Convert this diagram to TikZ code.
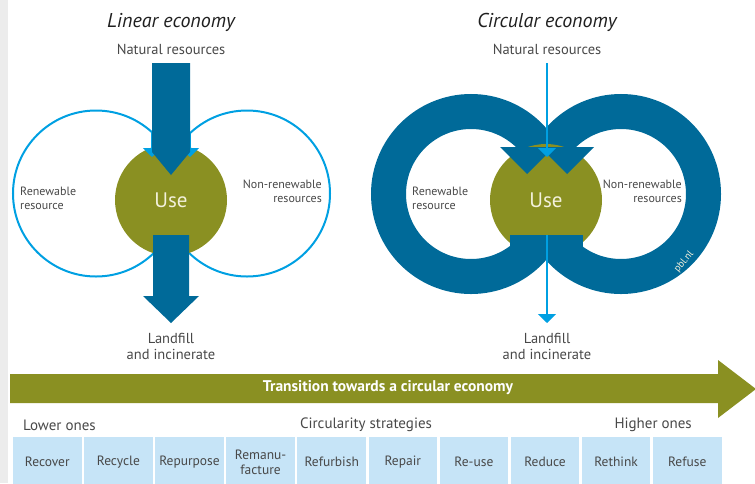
\documentclass[tikz,border=0pt]{standalone}
\usepackage{fontspec}
\setmainfont{PT Sans}
\usetikzlibrary{arrows.meta, positioning}
\definecolor{pbldark}{RGB}{0,106,153}
\definecolor{pbllight}{RGB}{0,160,226}
\definecolor{pblolive}{RGB}{138,144,34}
\definecolor{pblbox}{RGB}{198,228,247}
\definecolor{pbltext}{RGB}{72,72,72}
\definecolor{pblcream}{RGB}{243,241,220}
\definecolor{pblgray}{RGB}{236,236,236}
\tikzset{
  titletext/.style={inner sep=0, text=black!88, font=\fontsize{20}{22}\selectfont\itshape},
  headtext/.style={inner sep=0, text=pbltext, align=center, font=\fontsize{14.5}{16}\selectfont},
  bottomtext/.style={inner sep=0, text=pbltext, font=\fontsize{15}{17}\selectfont},
  sidetext/.style={inner sep=0, text=pbltext, font=\fontsize{12}{14}\selectfont},
  usenode/.style={circle, fill=pblolive, minimum size=112pt, inner sep=0,
    text=pblcream, font=\fontsize{21}{24}\selectfont},
  stratbox/.style={rectangle, fill=pblbox, minimum width=68.6pt, minimum height=50pt,
    inner sep=0, align=center, text=pbltext, font=\fontsize{13.5}{15}\selectfont},
  ringline/.style={draw=pbllight, line width=2pt},
  ringband/.style={draw=pbldark, line width=35pt},
  thinarrow/.style={draw=pbllight, line width=2pt, -{Triangle[width=18pt,length=9pt]}}
}

\begin{document}
\begin{tikzpicture}[x=1pt, y=-1pt]
\useasboundingbox (0,0) rectangle (755,483);
\fill[pblgray] (0,0) rectangle (8,483);

% Linear economy
\node (tlin) [titletext] at (171,22) {Linear economy};
\node (nrlin) [headtext] at (171,49) {Natural resources};
\draw[ringline] (96,193.5) circle[radius=83];
\draw[ringline] (247,193.5) circle[radius=83];
\node (uselin) [usenode] at (171,200) {Use};
\coordinate (lefttip) at (152,157);
\coordinate (righttip) at (190,157);
\draw[thinarrow] (152,132) -- (lefttip);
\draw[thinarrow] (190,133) -- (righttip);
\fill[pbldark] (152,63) -- (190,63) -- (190,152) -- (171,175) -- (152,152) -- cycle;
\fill[pbldark] (153,235) -- (189,235) -- (189,296) -- (199,296) -- (171,323)
  -- (143,296) -- (153,296) -- cycle;
\node (renlin) [sidetext, anchor=west, align=left] at (20,198) {Renewable\\resource};
\node (nonlin) [sidetext, anchor=east, align=right] at (322,191) {Non-renewable\\resources};
\node (landlin) [headtext] at (171,346) {Landfill\\and incinerate};

% Circular economy
\node (tcirc) [titletext] at (547,22) {Circular economy};
\node (nrcirc) [headtext] at (547,49) {Natural resources};
\draw[ringband] (471,194) circle[radius=82.5];
\draw[ringband] (621,194) circle[radius=82.5];
\node (usecirc) [usenode] at (546,200) {Use};
\fill[pbldark] (510,235) rectangle (583,258);
\fill[pbldark] (500,147) -- (554,147) -- (527,174) -- cycle;
\fill[pbldark] (540,147) -- (594,147) -- (567,174) -- cycle;
\coordinate (inflow) at (547,63);
\coordinate (inend) at (547,157);
\coordinate (outflow) at (547,235);
\coordinate (outend) at (547,323);
\draw[thinarrow] (inflow) -- (inend);
\draw[thinarrow] (outflow) -- (outend);
\node (rencirc) [sidetext, anchor=west, align=left] at (412,198) {Renewable\\resource};
\node (noncirc) [sidetext, anchor=east, align=right] at (682,191) {Non-renewable\\resources};
\node (landcirc) [headtext] at (547,346) {Landfill\\and incinerate};
\node (pbl) [inner sep=0, rotate=50, text=pblcream, font=\fontsize{10}{11}\selectfont] at (684,262) {pbl.nl};

% Transition
\fill[pblolive] (10,374) -- (718,374) -- (718,360) -- (756,389) -- (718,418)
  -- (718,403) -- (10,403) -- cycle;
\node (trans) [inner sep=0, text=white, font=\fontsize{15.5}{17}\selectfont\bfseries] at (388,388)
  {Transition towards a circular economy};
\node (lower) [bottomtext, anchor=west] at (23,425) {Lower ones};
\node (strat) [bottomtext] at (366,425) {Circularity strategies};
\node (higher) [bottomtext, anchor=east] at (692,425) {Higher ones};

% Strategies
\node (s1) [stratbox] at (47.3,462) {Recover};
\node (s2) [stratbox, right=2.1pt of s1] {Recycle};
\node (s3) [stratbox, right=2.1pt of s2] {Repurpose};
\node (s4) [stratbox, right=2.1pt of s3] {Remanu-\\facture};
\node (s5) [stratbox, right=2.1pt of s4] {Refurbish};
\node (s6) [stratbox, right=2.1pt of s5] {Repair};
\node (s7) [stratbox, right=2.1pt of s6] {Re-use};
\node (s8) [stratbox, right=2.1pt of s7] {Reduce};
\node (s9) [stratbox, right=2.1pt of s8] {Rethink};
\node (s10) [stratbox, right=2.1pt of s9] {Refuse};

\end{tikzpicture}
\end{document}
